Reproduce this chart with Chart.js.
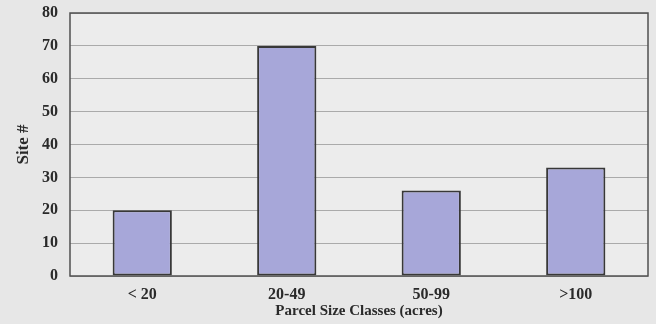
<!DOCTYPE html>
<html>
<head>
<meta charset="utf-8">
<script src="https://cdn.jsdelivr.net/npm/chart.js@4/dist/chart.umd.min.js"></script>
<style>
    html, body { margin: 0; padding: 0; background: #e7e7e7; }
    #wrap { width: 656px; height: 324px; }
</style>
</head>
<body>
<div id="wrap"><canvas id="chart" width="656" height="324"></canvas></div>
<script>
// data
const categories = ['< 20', '20-49', '50-99', '>100']
const siteCounts = [20, 70, 26, 33]
const yTicks = [0, 10, 20, 30, 40, 50, 60, 70, 80]

const serif = '"Liberation Serif", "Times New Roman", serif'

// ─── fondo y borde del área ──────────────────────────────
const frame = {
    id: 'frame',
    beforeDraw(chart) {
        const { ctx, chartArea: a } = chart
        ctx.save()
        ctx.fillStyle = '#e7e7e7'
        ctx.fillRect(0, 0, chart.width, chart.height)
        ctx.fillStyle = '#ececec'
        ctx.fillRect(a.left, a.top, a.right - a.left, a.bottom - a.top)
        ctx.restore()
    },
    afterDraw(chart) {
        const { ctx, chartArea: a } = chart
        ctx.save()
        ctx.strokeStyle = '#505050'
        ctx.lineWidth = 1.5
        ctx.strokeRect(a.left, a.top, a.right - a.left, a.bottom - a.top)
        ctx.restore()
    }
}

new Chart(document.getElementById('chart'), {
    type: 'bar',
    data: {
        labels: categories,
        datasets: [{
            data: siteCounts,
            backgroundColor: '#a7a7d9',
            borderColor: '#383838',
            borderWidth: 2,
            borderSkipped: false,
            categoryPercentage: 1,
            barPercentage: 0.41
        }]
    },
    options: {
        responsive: false,
        animation: false,
        layout: { padding: { top: 13, right: 8, left: 0, bottom: 0 } },
        plugins: { legend: { display: false }, tooltip: { enabled: false } },
        scales: {
            x: {
                grid: { display: false },
                border: { display: false },
                ticks: { color: '#2a2a2a', padding: 1, font: { family: serif, size: 16, weight: 'bold' } },
                title: {
                    display: true,
                    text: 'Parcel Size Classes (acres)',
                    color: '#2a2a2a',
                    padding: { top: 0, bottom: 4 },
                    font: { family: serif, size: 15, weight: 'bold' }
                },
                afterFit(scale) { scale.height = 48 }
            },
            y: {
                min: 0,
                max: 80,
                afterBuildTicks(scale) { scale.ticks = yTicks.map(v => ({ value: v })) },
                grid: { color: '#aaaaaa', lineWidth: 1, drawTicks: false },
                border: { display: false },
                ticks: { color: '#2a2a2a', padding: 12, font: { family: serif, size: 16, weight: 'bold' } },
                title: {
                    display: true,
                    text: 'Site #',
                    color: '#2a2a2a',
                    padding: { top: 13, bottom: 0 },
                    font: { family: serif, size: 17, weight: 'bold' }
                },
                afterFit(scale) {
                    scale.width = 70
                    scale.paddingTop = 0
                    scale.paddingBottom = 0
                }
            }
        }
    },
    plugins: [frame]
})
</script>
</body>
</html>
